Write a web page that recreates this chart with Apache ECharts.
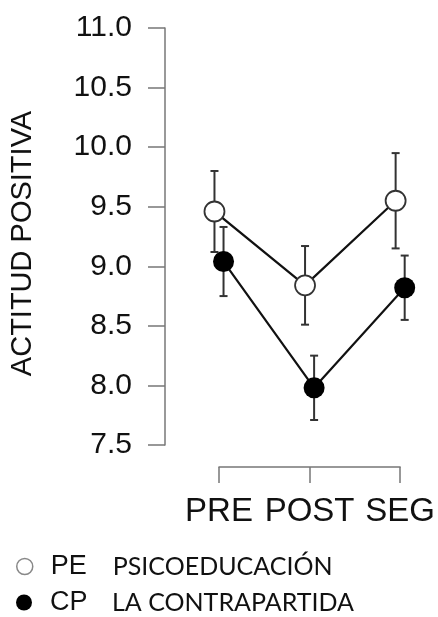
<!DOCTYPE html>
<html>
<head>
<meta charset="utf-8">
<script src="https://cdn.jsdelivr.net/npm/echarts@6/dist/echarts.min.js"></script>
<style>html,body{margin:0;padding:0;background:#fff;}#c{width:438px;height:617px;}</style>
</head>
<body>
<div id="c"></div>
<script>
const categories = ['PRE', 'POST', 'SEG'];
const seriesNames = ['PE', 'CP'];
const seriesDesc = ['PSICOEDUCACIÓN', 'LA CONTRAPARTIDA'];
const peMean = [9.46, 8.84, 9.55];
const peErr = [0.34, 0.33, 0.40];
const cpMean = [9.04, 7.98, 8.82];
const cpErr = [0.29, 0.27, 0.27];
const yMin = 7.5, yMax = 11.0, yStep = 0.5;
const dodge = 0.05;

function pts(mean, off) { return mean.map((v, i) => [i + 1 + off, v]); }
function bars(mean, err, off) { return mean.map((v, i) => [i + 1 + off, v - err[i], v + err[i]]); }

function errRender(params, api) {
  const x = api.value(0);
  const lo = api.coord([x, api.value(1)]);
  const hi = api.coord([x, api.value(2)]);
  const cw = 4;
  const st = { stroke: '#333', lineWidth: 2 };
  return { type: 'group', children: [
    { type: 'line', shape: { x1: lo[0], y1: lo[1], x2: hi[0], y2: hi[1] }, style: st },
    { type: 'line', shape: { x1: lo[0] - cw, y1: lo[1], x2: lo[0] + cw, y2: lo[1] }, style: st },
    { type: 'line', shape: { x1: hi[0] - cw, y1: hi[1], x2: hi[0] + cw, y2: hi[1] }, style: st }
  ]};
}

function legendFor(idx, top, iconStyle) {
  return {
    orient: 'vertical', left: 16, top: top, padding: 0, itemWidth: 16, itemHeight: 16,
    selectedMode: false,
    data: [{ name: seriesNames[idx], icon: 'circle', itemStyle: iconStyle }],
    formatter: n => '{a|' + n + '}{b|' + seriesDesc[seriesNames.indexOf(n)] + '}',
    textStyle: {
      rich: {
        a: { fontFamily: 'Liberation Sans', fontSize: 27, color: '#111', width: 62, padding: [0, 0, 0, 13], lineHeight: 26 },
        b: { fontFamily: 'Lato', fontSize: 25, color: '#111', lineHeight: 26 }
      }
    }
  };
}

const chart = echarts.init(document.getElementById('c'), null, { renderer: 'canvas' });
chart.setOption({
  animation: false,
  backgroundColor: '#fff',
  grid: { left: 219, right: 36, top: 28, bottom: 172, containLabel: false },
  xAxis: {
    type: 'value', min: 1, max: 3, interval: 1, offset: 22,
    splitLine: { show: false },
    axisLine: { show: true, lineStyle: { color: '#777', width: 1.5 } },
    axisTick: { show: true, length: 16, lineStyle: { color: '#777', width: 1.5 } },
    axisLabel: { margin: 28, fontFamily: 'Liberation Sans', fontSize: 33, color: '#111',
      formatter: v => categories[Math.round(v) - 1] || '' }
  },
  yAxis: {
    type: 'value', min: yMin, max: yMax, interval: yStep, offset: 54,
    name: 'ACTITUD POSITIVA', nameLocation: 'middle', nameRotate: 90, nameGap: 128,
    nameTextStyle: { fontFamily: 'Liberation Sans', fontSize: 29, color: '#111', padding: [0, 14, 0, 0] },
    splitLine: { show: false },
    axisLine: { show: true, lineStyle: { color: '#777', width: 1.5 } },
    axisTick: { show: true, length: 17, lineStyle: { color: '#777', width: 1.5 } },
    axisLabel: { margin: 33, fontFamily: 'Liberation Sans', fontSize: 30, color: '#111',
      formatter: v => v.toFixed(1) }
  },
  legend: [
    legendFor(0, 553, { color: '#fff', borderColor: '#888', borderWidth: 1.5 }),
    legendFor(1, 589, { color: '#000', borderColor: '#000', borderWidth: 0 })
  ],
  series: [
    { type: 'custom', name: 'PEerr', renderItem: errRender, data: bars(peMean, peErr, -dodge), clip: false, z: 1, silent: true },
    { type: 'custom', name: 'CPerr', renderItem: errRender, data: bars(cpMean, cpErr, dodge), clip: false, z: 1, silent: true },
    { type: 'line', name: 'PE', data: pts(peMean, -dodge), clip: false, z: 3,
      symbol: 'circle', symbolSize: 20,
      lineStyle: { color: '#111', width: 2.2 },
      itemStyle: { color: '#fff', borderColor: '#333', borderWidth: 1.8 } },
    { type: 'line', name: 'CP', data: pts(cpMean, dodge), clip: false, z: 3,
      symbol: 'circle', symbolSize: 21,
      lineStyle: { color: '#111', width: 2.2 },
      itemStyle: { color: '#000', borderColor: '#000', borderWidth: 0 } }
  ]
});
</script>
</body>
</html>
